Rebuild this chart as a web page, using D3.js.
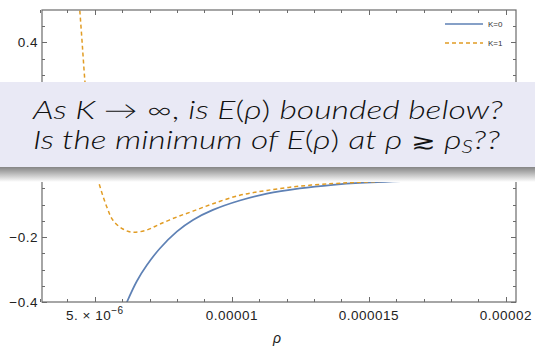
<!DOCTYPE html>
<html>
<head>
<meta charset="utf-8">
<script src="https://cdn.jsdelivr.net/npm/d3@7"></script>
<style>
  html, body { margin: 0; padding: 0; background: #fff; }
  svg { display: block; }
</style>
</head>
<body>
<svg id="chart" width="535" height="348"></svg>
<script>
// data (rho, E)
var rhoK0 = [6.02e-6, 6.17e-6, 6.53e-6, 6.90e-6, 7.37e-6, 7.99e-6, 8.58e-6, 9.31e-6, 10.29e-6, 11.28e-6, 12.48e-6, 13.69e-6, 14.67e-6, 16.86e-6, 20.36e-6];
var eK0   = [-0.431, -0.400, -0.336, -0.286, -0.235, -0.183, -0.147, -0.116, -0.087, -0.066, -0.050, -0.039, -0.033, -0.026, -0.020];

var rhoK1 = [4.45e-6, 4.53e-6, 4.58e-6, 4.64e-6, 4.71e-6, 4.82e-6, 4.93e-6, 5.04e-6, 5.15e-6, 5.44e-6, 5.66e-6, 6.02e-6, 6.39e-6, 6.90e-6, 7.37e-6, 7.99e-6, 8.58e-6, 9.31e-6, 10.29e-6, 11.28e-6, 12.48e-6, 13.69e-6, 14.67e-6, 16.86e-6, 20.36e-6];
var eK1   = [0.498, 0.406, 0.345, 0.277, 0.222, 0.145, 0.068, 0.006, -0.034, -0.108, -0.148, -0.175, -0.185, -0.178, -0.160, -0.138, -0.120, -0.097, -0.071, -0.056, -0.043, -0.035, -0.031, -0.024, -0.018];

var xMajor = [5e-6, 1e-5, 1.5e-5, 2e-5];
var xMajorLabels = ['5. \u00d7 10', '0.00001', '0.000015', '0.00002'];
var yMajor = [-0.4, -0.2, 0, 0.2, 0.4];
var yMajorLabels = ['\u22120.4', '\u22120.2', '0.0', '0.2', '0.4'];

var seriesNames = ['K=0', 'K=1'];
var colors = ['#5e81b5', '#e19c24'];

(function(){
  var svg = d3.select('#chart');
  var pL = 42, pR = 516, pT = 10, pB = 302;
  var boxTop = 82, boxBottom = 167, shadowH = 15;

  var x = d3.scaleLinear().domain([3.07e-6, 2.037e-5]).range([pL, pR]);
  var y = d3.scaleLinear().domain([-0.4, 0.5]).range([pB, pT]);

  // minor ticks
  var xMinor = d3.range(3e-6, 2.04e-5, 1e-6).filter(function(v){
    return xMajor.every(function(m){ return Math.abs(m - v) > 1e-9; });
  });
  var yMinor = d3.range(-0.4, 0.5, 0.05).filter(function(v){
    return yMajor.every(function(m){ return Math.abs(m - v) > 1e-6; });
  });

  var frameColor = '#6b6b6b';
  var defs = svg.append('defs');
  var ticks = svg.append('g').attr('stroke', frameColor).attr('stroke-width', 1);

  function hTicks(vals, len){
    vals.forEach(function(v){
      var px = Math.round(x(v)) + 0.5;
      ticks.append('line').attr('x1', px).attr('x2', px).attr('y1', pB).attr('y2', pB - len);
      ticks.append('line').attr('x1', px).attr('x2', px).attr('y1', pT).attr('y2', pT + len);
    });
  }
  function vTicks(vals, len){
    vals.forEach(function(v){
      var py = Math.round(y(v)) + 0.5;
      ticks.append('line').attr('y1', py).attr('y2', py).attr('x1', pL).attr('x2', pL + len);
      ticks.append('line').attr('y1', py).attr('y2', py).attr('x1', pR).attr('x2', pR - len);
    });
  }
  hTicks(xMajor, 5);
  hTicks(xMinor, 3);
  vTicks(yMajor, 5);
  vTicks(yMinor, 3);

  // curves
  defs.append('clipPath').attr('id', 'plotclip')
    .append('rect').attr('x', pL).attr('y', pT).attr('width', pR - pL).attr('height', pB - pT);

  var line = d3.line()
    .x(function(d){ return x(d[0]); })
    .y(function(d){ return y(d[1]); })
    .curve(d3.curveCatmullRom.alpha(0.5));

  var curves = svg.append('g').attr('clip-path', 'url(#plotclip)');
  curves.append('path')
    .datum(d3.zip(rhoK0, eK0))
    .attr('d', line)
    .attr('fill', 'none')
    .attr('stroke', colors[0])
    .attr('stroke-width', 1.7);
  curves.append('path')
    .datum(d3.zip(rhoK1, eK1))
    .attr('d', line)
    .attr('fill', 'none')
    .attr('stroke', colors[1])
    .attr('stroke-width', 1.5)
    .attr('stroke-dasharray', '4,3');

  // frame
  svg.append('rect')
    .attr('x', pL).attr('y', pT)
    .attr('width', pR - pL).attr('height', pB - pT)
    .attr('fill', 'none').attr('stroke', frameColor).attr('stroke-width', 1.2);

  // tick labels (labels that sit under the note box are covered, so skip them)
  var labels = svg.append('g')
    .attr('font-family', 'Liberation Sans, Arial, sans-serif')
    .attr('font-size', 13.5)
    .attr('letter-spacing', 0.5)
    .attr('fill', '#222');

  yMajor.forEach(function(v, i){
    var py = y(v);
    if(py > boxTop - 6 && py < boxBottom + shadowH + 6) return;
    labels.append('text')
      .attr('x', pL - 4)
      .attr('y', py + 5)
      .attr('text-anchor', 'end')
      .text(yMajorLabels[i]);
  });

  xMajor.forEach(function(v, i){
    var t = labels.append('text')
      .attr('x', x(v))
      .attr('y', 320)
      .attr('text-anchor', 'middle')
      .text(xMajorLabels[i]);
    if(i === 0){
      t.append('tspan').attr('dy', -6).attr('font-size', 10).text('\u22126');
    }
  });

  svg.append('text')
    .attr('x', 277).attr('y', 343)
    .attr('text-anchor', 'middle')
    .attr('font-family', 'Liberation Sans, Arial, sans-serif')
    .attr('font-style', 'italic')
    .attr('font-size', 14)
    .attr('fill', '#222')
    .text('\u03c1');

  // legend
  var lg = svg.append('g').attr('font-family', 'Liberation Sans, Arial, sans-serif').attr('font-size', 8).attr('fill', '#333');
  seriesNames.forEach(function(name, i){
    var ly = 24 + i * 19;
    lg.append('line')
      .attr('x1', 445).attr('x2', 483).attr('y1', ly).attr('y2', ly)
      .attr('stroke', colors[i])
      .attr('stroke-width', i === 0 ? 1.6 : 1.4)
      .attr('stroke-dasharray', i === 0 ? null : '4,3');
    lg.append('text').attr('x', 488).attr('y', ly + 3).text(name);
  });

  // overlay box with shadow
  var grad = defs.append('linearGradient')
    .attr('id', 'shadow').attr('x1', 0).attr('y1', 0).attr('x2', 0).attr('y2', 1);
  grad.append('stop').attr('offset', '0%').attr('stop-color', '#858585');
  grad.append('stop').attr('offset', '40%').attr('stop-color', '#b5b5b5');
  grad.append('stop').attr('offset', '100%').attr('stop-color', '#ffffff');

  svg.append('rect').attr('x', 0).attr('y', boxBottom).attr('width', 535).attr('height', shadowH).attr('fill', 'url(#shadow)');
  svg.append('rect').attr('x', 0).attr('y', boxTop).attr('width', 535).attr('height', boxBottom - boxTop).attr('fill', '#e9e9f5');

  var note = svg.append('g')
    .attr('font-family', 'Lato, Open Sans, sans-serif')
    .attr('font-size', 25)
    .attr('font-weight', 300)
    .attr('fill', '#111');

  var l1 = note.append('text').attr('x', 33).attr('y', 119).attr('textLength', 470).attr('lengthAdjust', 'spacingAndGlyphs');
  l1.append('tspan').attr('font-style', 'italic').text('As K ');
  l1.append('tspan').text('\u2192 \u221e, ');
  l1.append('tspan').attr('font-style', 'italic').text('is E');
  l1.append('tspan').text('(');
  l1.append('tspan').attr('font-style', 'italic').text('\u03c1');
  l1.append('tspan').text(') ');
  l1.append('tspan').attr('font-style', 'italic').text('bounded below?');

  var l2 = note.append('text').attr('x', 33).attr('y', 149).attr('textLength', 467).attr('lengthAdjust', 'spacingAndGlyphs');
  l2.append('tspan').attr('font-style', 'italic').text('Is the minimum of E');
  l2.append('tspan').text('(');
  l2.append('tspan').attr('font-style', 'italic').text('\u03c1');
  l2.append('tspan').text(') ');
  l2.append('tspan').attr('font-style', 'italic').text('at \u03c1 ');
  l2.append('tspan').attr('font-family', 'DejaVu Sans, sans-serif').attr('font-weight', 200).attr('font-size', 22).text('\u2273');
  l2.append('tspan').text(' ');
  l2.append('tspan').attr('font-style', 'italic').text('\u03c1');
  l2.append('tspan').attr('font-style', 'italic').attr('font-size', 17).attr('dy', 4).text('S');
  l2.append('tspan').attr('font-style', 'italic').attr('dy', -4).text('??');
})();
</script>
</body>
</html>
